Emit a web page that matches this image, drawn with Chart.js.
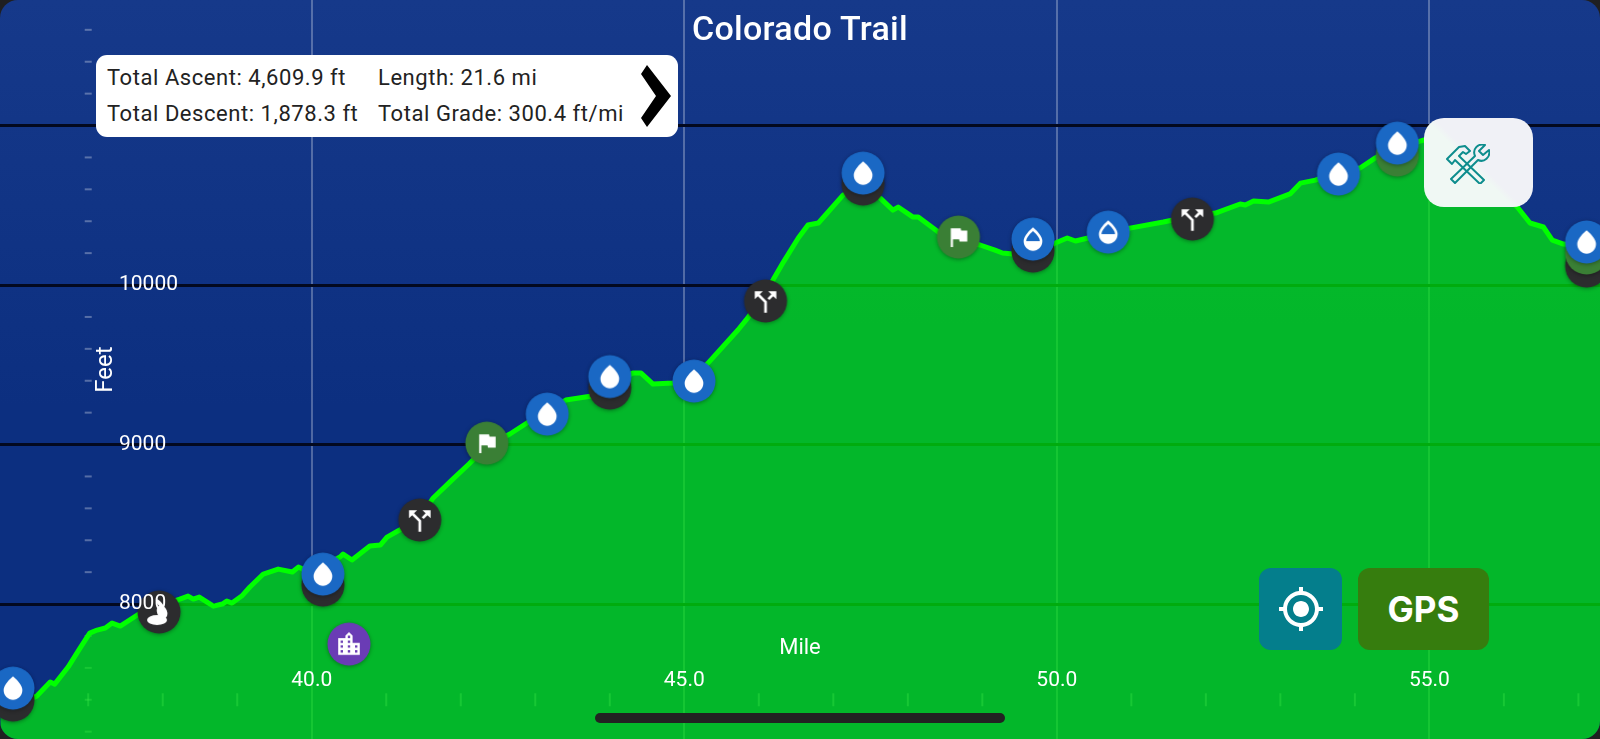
<!DOCTYPE html>
<html>
<head>
<meta charset="utf-8">
<title>Colorado Trail</title>
<script src="https://cdn.jsdelivr.net/npm/chart.js@4"></script>
<style>
    html, body { margin: 0; background: #1f1f21; }
    #phone { position: relative; width: 1600px; height: 739px; overflow: hidden; border-radius: 18px;
             background: linear-gradient(#16398a, #0c2f80 55%); font-family: Roboto, sans-serif; }
    #phone canvas { position: absolute; left: 0; top: 0; }
    #titulo { position: absolute; left: 0; width: 1600px; top: 8px; text-align: center; color: #fff;
              font: 500 34px/40px Roboto, sans-serif; letter-spacing: 0.3px; }
    #resumen { position: absolute; left: 96px; top: 55px; width: 582px; height: 82px; background: #fff; border-radius: 11px; color: #222;
               font: 400 22px/36px Roboto, sans-serif; letter-spacing: 0.55px; }
    #resumen span { position: absolute; white-space: nowrap; }
    #resumen svg { position: absolute; left: 545px; top: 10px; }
    .boton { position: absolute; display: flex; align-items: center; justify-content: center; }
    #herramientas { left: 1424px; top: 118px; width: 109px; height: 89px; border-radius: 20px;
                    background: linear-gradient(45deg, #f0f8f4 45%, #f0f1f6 50%); }
    #herramientas svg { position: absolute; left: 22px; top: 26px; }
    #ubicar { left: 1259px; top: 568px; width: 83px; height: 82px; border-radius: 12px; background: #047e8c; }
    #gps { left: 1358px; top: 568px; width: 131px; height: 82px; border-radius: 12px; background: #367d0e;
           color: #fff; font: 700 35px Inter, sans-serif; }
    #barra { position: absolute; left: 595px; top: 713px; width: 410px; height: 10px; border-radius: 5px; background: #222; }
</style>
</head>
<body>
<div id="phone">
    <canvas id="perfil" width="1600" height="739"></canvas>
    <div id="titulo">Colorado Trail</div>
    <div id="resumen">
        <span style="left:11px;top:5px">Total Ascent: 4,609.9 ft</span>
        <span style="left:282px;top:5px">Length: 21.6 mi</span>
        <span style="left:11px;top:41px">Total Descent: 1,878.3 ft</span>
        <span style="left:282px;top:41px">Total Grade: 300.4 ft/mi</span>
        <svg width="30" height="62" viewBox="0 0 30 62"><path d="M0 9 L6 0 L30 31 L6 62 L0 53 L15 31 Z" fill="#000"/></svg>
    </div>
    <div id="herramientas" class="boton">
        <svg width="44" height="40" viewBox="0 0 44 40" fill="none" stroke="#0d8d8d" stroke-width="2" stroke-linejoin="round">
            <path d="M1 15 L13 3 L19 2 L24 7 L20 10 L17 8 L13 12 L38 36 L34 40 L9 16 L6 20 Z"/>
            <path d="M5 35 L29 12 C26 5 32 -1 39 1 L33 7 L37 11 L43 6 C45 13 38 19 32 16 L9 39 Z"/>
        </svg>
    </div>
    <div id="ubicar" class="boton">
        <svg width="48" height="48" viewBox="0 0 24 24" fill="#fff"><path d="M12 8c-2.21 0-4 1.79-4 4s1.79 4 4 4 4-1.79 4-4-1.79-4-4-4zm8.94 3c-.46-4.17-3.77-7.48-7.94-7.94V1h-2v2.06C6.83 3.52 3.52 6.83 3.06 11H1v2h2.06c.46 4.17 3.77 7.48 7.94 7.94V23h2v-2.06c4.17-.46 7.48-3.77 7.94-7.94H23v-2h-2.06zM12 19c-3.87 0-7-3.13-7-7s3.13-7 7-7 7 3.13 7 7-3.13 7-7 7z"/></svg>
    </div>
    <div id="gps" class="boton">GPS</div>
    <div id="barra"></div>
</div>
<script>
// elevation profile
const millas = [35.82, 36.31, 36.49, 36.55, 36.73, 36.89, 37.02, 37.12, 37.23, 37.32, 37.43, 37.70, 37.95, 38.23, 38.34, 38.41, 38.49, 38.68, 38.80, 38.86, 38.93,
    39.06, 39.17, 39.35, 39.55, 39.74, 39.82, 39.88, 40.18, 40.38, 40.42, 40.54, 40.78, 40.92, 41.01, 41.18, 41.45, 41.63, 41.88, 42.11, 42.35, 42.66, 42.95,
    43.41, 43.76, 44.00, 44.31, 44.42, 44.58, 44.85, 45.13, 45.33, 45.72, 45.86, 46.19, 46.33, 46.53, 46.66, 46.80, 47.13, 47.36, 47.63, 47.80, 47.87, 48.07,
    48.14, 48.41, 48.68, 48.97, 49.17, 49.27, 49.41, 49.71, 49.98, 50.14, 50.25, 50.42, 50.98, 51.43, 51.82, 52.13, 52.46, 52.53, 52.64, 52.84, 53.13, 53.27,
    53.47, 53.78, 54.07, 54.27, 54.61, 54.92, 55.28, 55.68, 56.18, 56.35, 56.53, 56.65, 56.80, 57.29];
const pies = [7323, 7423, 7511, 7498, 7605, 7724, 7818, 7837, 7850, 7881, 7862, 7944, 7987, 8031, 8050, 8031, 8044, 7987, 8000, 8019, 8006,
    8050, 8107, 8188, 8219, 8201, 8232, 8219, 8245, 8295, 8313, 8276, 8364, 8370, 8420, 8464, 8539, 8665, 8777, 8878, 8991, 9066, 9154,
    9279, 9304, 9373, 9448, 9448, 9379, 9386, 9417, 9517, 9718, 9799, 10031, 10144, 10295, 10376, 10389, 10564, 10627, 10545, 10470, 10489, 10426,
    10426, 10332, 10282, 10251, 10219, 10201, 10194, 10207, 10263, 10295, 10276, 10295, 10357, 10395, 10433, 10451, 10508, 10502, 10527, 10520, 10571, 10639,
    10658, 10708, 10734, 10796, 10865, 10909, 10878, 10752, 10489, 10389, 10364, 10282, 10257, 10219];

// waypoints
const aguaMillas = [35.99, 40.15, 43.16, 44.00, 45.13, 47.40, 53.78, 54.57, 57.11];
const aguaPies = [7473, 8188, 9191, 9426, 9398, 10702, 10696, 10890, 10270];
const aguaMediaMillas = [49.68, 50.69];
const aguaMediaPies = [10288, 10332];
const cruceMillas = [41.45, 46.09, 51.82];
const crucePies = [8527, 9900, 10414];
const conejoMillas = [37.95];
const conejoPies = [7950];
const sombraMillas = [35.99, 40.15, 44.00, 47.40, 49.68, 57.11];
const sombraPies = [7398, 8119, 9354, 10633, 10213, 10119];
const banderaMillas = [42.35, 48.68];
const banderaPies = [9009, 10301];
const verdeMillas = [54.57, 57.11];
const verdePies = [10815, 10201];
const ciudadMillas = [40.50];
const ciudadPies = [7749];

// axes
const ticksMilla = [40, 45, 50, 55];
const ticksPies = [8000, 9000, 10000, 11000];
const menoresMilla = [36, 37, 38, 39, 41, 42, 43, 44, 46, 47, 48, 49, 51, 52, 53, 54, 56, 57];
const menoresPies = [7200, 7400, 7600, 7800, 8200, 8400, 8600, 8800, 9200, 9400, 9600, 9800, 10200, 10400, 10600, 10800, 11200, 11400, 11600];
const millaCruce = 37;
const piesCruce = 7400;

const puntos = (xs, ys) => xs.map((x, i) => ({ x: x, y: ys[i] }));

const DROP = 'M12 2c-5.33 4.55-8 8.48-8 11.8 0 4.98 3.8 8.2 8 8.2s8-3.22 8-8.2c0-3.32-2.67-7.25-8-11.8z';
const FORK = 'M14 4l2.29 2.29-2.88 2.88 1.42 1.42 2.88-2.88L20 10V4zm-4 0H4v6l2.29-2.29 4.71 4.7V20h2v-8.41l-5.29-5.3z';
const FLAG = 'M14.4 6L14 4H5v17h2v-7h5.6l.4 2h7V6z';
const CITY = 'M15 11V5l-3-3-3 3v2H3v14h18V11h-6zm-8 8H5v-2h2v2zm0-4H5v-2h2v2zm0-4H5V9h2v2zm6 8h-2v-2h2v2zm0-4h-2v-2h2v2zm0-4h-2V9h2v2zm0-4h-2V5h2v2zm6 12h-2v-2h2v2zm0-4h-2v-2h2v2z';

// round marker sprite for pointStyle
function icono(color, dibujar) {
    const c = document.createElement('canvas');
    c.width = 60; c.height = 60;
    const g = c.getContext('2d');
    g.shadowColor = 'rgba(0,0,0,0.35)';
    g.shadowBlur = 4;
    g.shadowOffsetY = 1;
    g.fillStyle = color;
    g.beginPath();
    g.arc(30, 30, 21.5, 0, Math.PI * 2);
    g.fill();
    g.shadowColor = 'transparent';
    g.fillStyle = '#fff';
    if (dibujar) dibujar(g);
    return c;
}

function glifo(d, escala, dx, dy) {
    return g => {
        g.save();
        g.translate(30 + (dx || 0), 30 + (dy || 0));
        g.scale(escala, escala);
        g.translate(-12, -12);
        g.fill(new Path2D(d));
        g.restore();
    };
}

function gotaMedia(g) {
    glifo(DROP, 1.17)(g);
    g.save();
    g.beginPath();
    g.rect(0, 0, 60, 32);
    g.clip();
    g.fillStyle = '#1a68c4';
    glifo(DROP, 0.85, 0, 0.5)(g);
    g.restore();
}

function conejo(g) {
    g.beginPath();
    g.ellipse(28, 38, 10, 5, 0, 0, Math.PI * 2);
    g.fill();
    g.beginPath();
    g.ellipse(33, 30, 5, 7, -0.4, 0, Math.PI * 2);
    g.fill();
    g.beginPath();
    g.ellipse(31, 22, 2, 6, -0.7, 0, Math.PI * 2);
    g.fill();
}

const iconoAgua = icono('#1a68c4', glifo(DROP, 1.17));
const iconoMedia = icono('#1a68c4', gotaMedia);
const iconoCruce = icono('#2c2c2e', glifo(FORK, 1.35, 0, 1));
const iconoConejo = icono('#2c2c2e', conejo);
const iconoSombra = icono('#2c2c2e');
const iconoBandera = icono('#3a7f35', glifo(FLAG, 1.1));
const iconoVerde = icono('#3a7f35');
const iconoCiudad = icono('#6a3cb5', glifo(CITY, 1.2));

function marcas(xs, ys, img, orden) {
    return {
        data: puntos(xs, ys),
        pointStyle: img,
        pointRadius: 22,
        showLine: false,
        order: orden,
        clip: false
    };
}

// axes sit inside the plot, so they take no room
const sinEspacio = s => {
    if (s.isHorizontal()) s.height = 0; else s.width = 0;
    s.paddingLeft = s.paddingRight = s.paddingTop = s.paddingBottom = 0;
};

new Chart(document.getElementById('perfil'), {
    type: 'scatter',
    data: {
        datasets: [
            marcas(aguaMillas, aguaPies, iconoAgua, 1),
            marcas(aguaMediaMillas, aguaMediaPies, iconoMedia, 1),
            marcas(cruceMillas, crucePies, iconoCruce, 1),
            marcas(conejoMillas, conejoPies, iconoConejo, 1),
            marcas(banderaMillas, banderaPies, iconoBandera, 1),
            marcas(ciudadMillas, ciudadPies, iconoCiudad, 1),
            marcas(verdeMillas, verdePies, iconoVerde, 2),
            marcas(sombraMillas, sombraPies, iconoSombra, 3),
            {
                data: millas.map((m, i) => ({ x: m, y: pies[i] })),
                showLine: true,
                fill: 'start',
                backgroundColor: 'rgba(0,235,8,0.72)',
                borderColor: '#00ff00',
                borderWidth: 5,
                borderJoinStyle: 'round',
                tension: 0,
                pointRadius: 0,
                order: 4
            },
            {
                data: menoresPies.map(p => ({ x: millaCruce, y: p })),
                pointStyle: 'line',
                pointRadius: 3.5,
                pointBorderColor: 'rgba(255,255,255,0.3)',
                pointBorderWidth: 2,
                showLine: false,
                order: 5
            },
            {
                data: menoresMilla.map(m => ({ x: m, y: piesCruce })),
                pointStyle: 'line',
                pointRotation: 90,
                pointRadius: 6.5,
                pointBorderColor: 'rgba(255,255,255,0.3)',
                pointBorderWidth: 2,
                showLine: false,
                order: 5
            }
        ]
    },
    options: {
        responsive: false,
        animation: false,
        events: [],
        layout: { padding: 0, autoPadding: false },
        plugins: { legend: { display: false }, tooltip: { enabled: false } },
        scales: {
            x: {
                type: 'linear',
                min: 35.816,
                max: 57.29,
                afterBuildTicks: s => { s.ticks = ticksMilla.map(v => ({ value: v })); },
                afterFit: sinEspacio,
                grid: { color: 'rgba(255,255,255,0.28)', lineWidth: 2, drawTicks: false },
                border: { display: false },
                ticks: {
                    z: 1, color: '#fff', mirror: true, padding: 46, maxRotation: 0, autoSkip: false,
                    font: { family: 'Roboto', size: 21 },
                    callback: v => v.toFixed(1)
                }
            },
            // second x axis only to carry the title above the fill
            xTitulo: {
                type: 'linear',
                axis: 'x',
                position: 'bottom',
                min: 35.816,
                max: 57.29,
                afterFit: sinEspacio,
                grid: { display: false, z: 1 },
                border: { display: false },
                ticks: { display: false },
                title: {
                    display: true, text: 'Mile', color: '#fff',
                    font: { family: 'Roboto', size: 22 },
                    padding: { top: 0, bottom: 77 }
                }
            },
            y: {
                min: 7154,
                max: 11787,
                afterBuildTicks: s => { s.ticks = ticksPies.map(v => ({ value: v })); },
                afterFit: sinEspacio,
                grid: { color: '#03091f', lineWidth: 3, drawTicks: false },
                border: { display: false },
                ticks: {
                    z: 1, color: '#fff', mirror: true, padding: 119, autoSkip: false,
                    font: { family: 'Roboto', size: 21 },
                    callback: v => String(v)
                },
                title: {
                    display: true, text: 'Feet', color: '#fff',
                    font: { family: 'Roboto', size: 24 },
                    padding: { top: 92, bottom: 0 }
                }
            }
        }
    }
});
</script>
</body>
</html>
